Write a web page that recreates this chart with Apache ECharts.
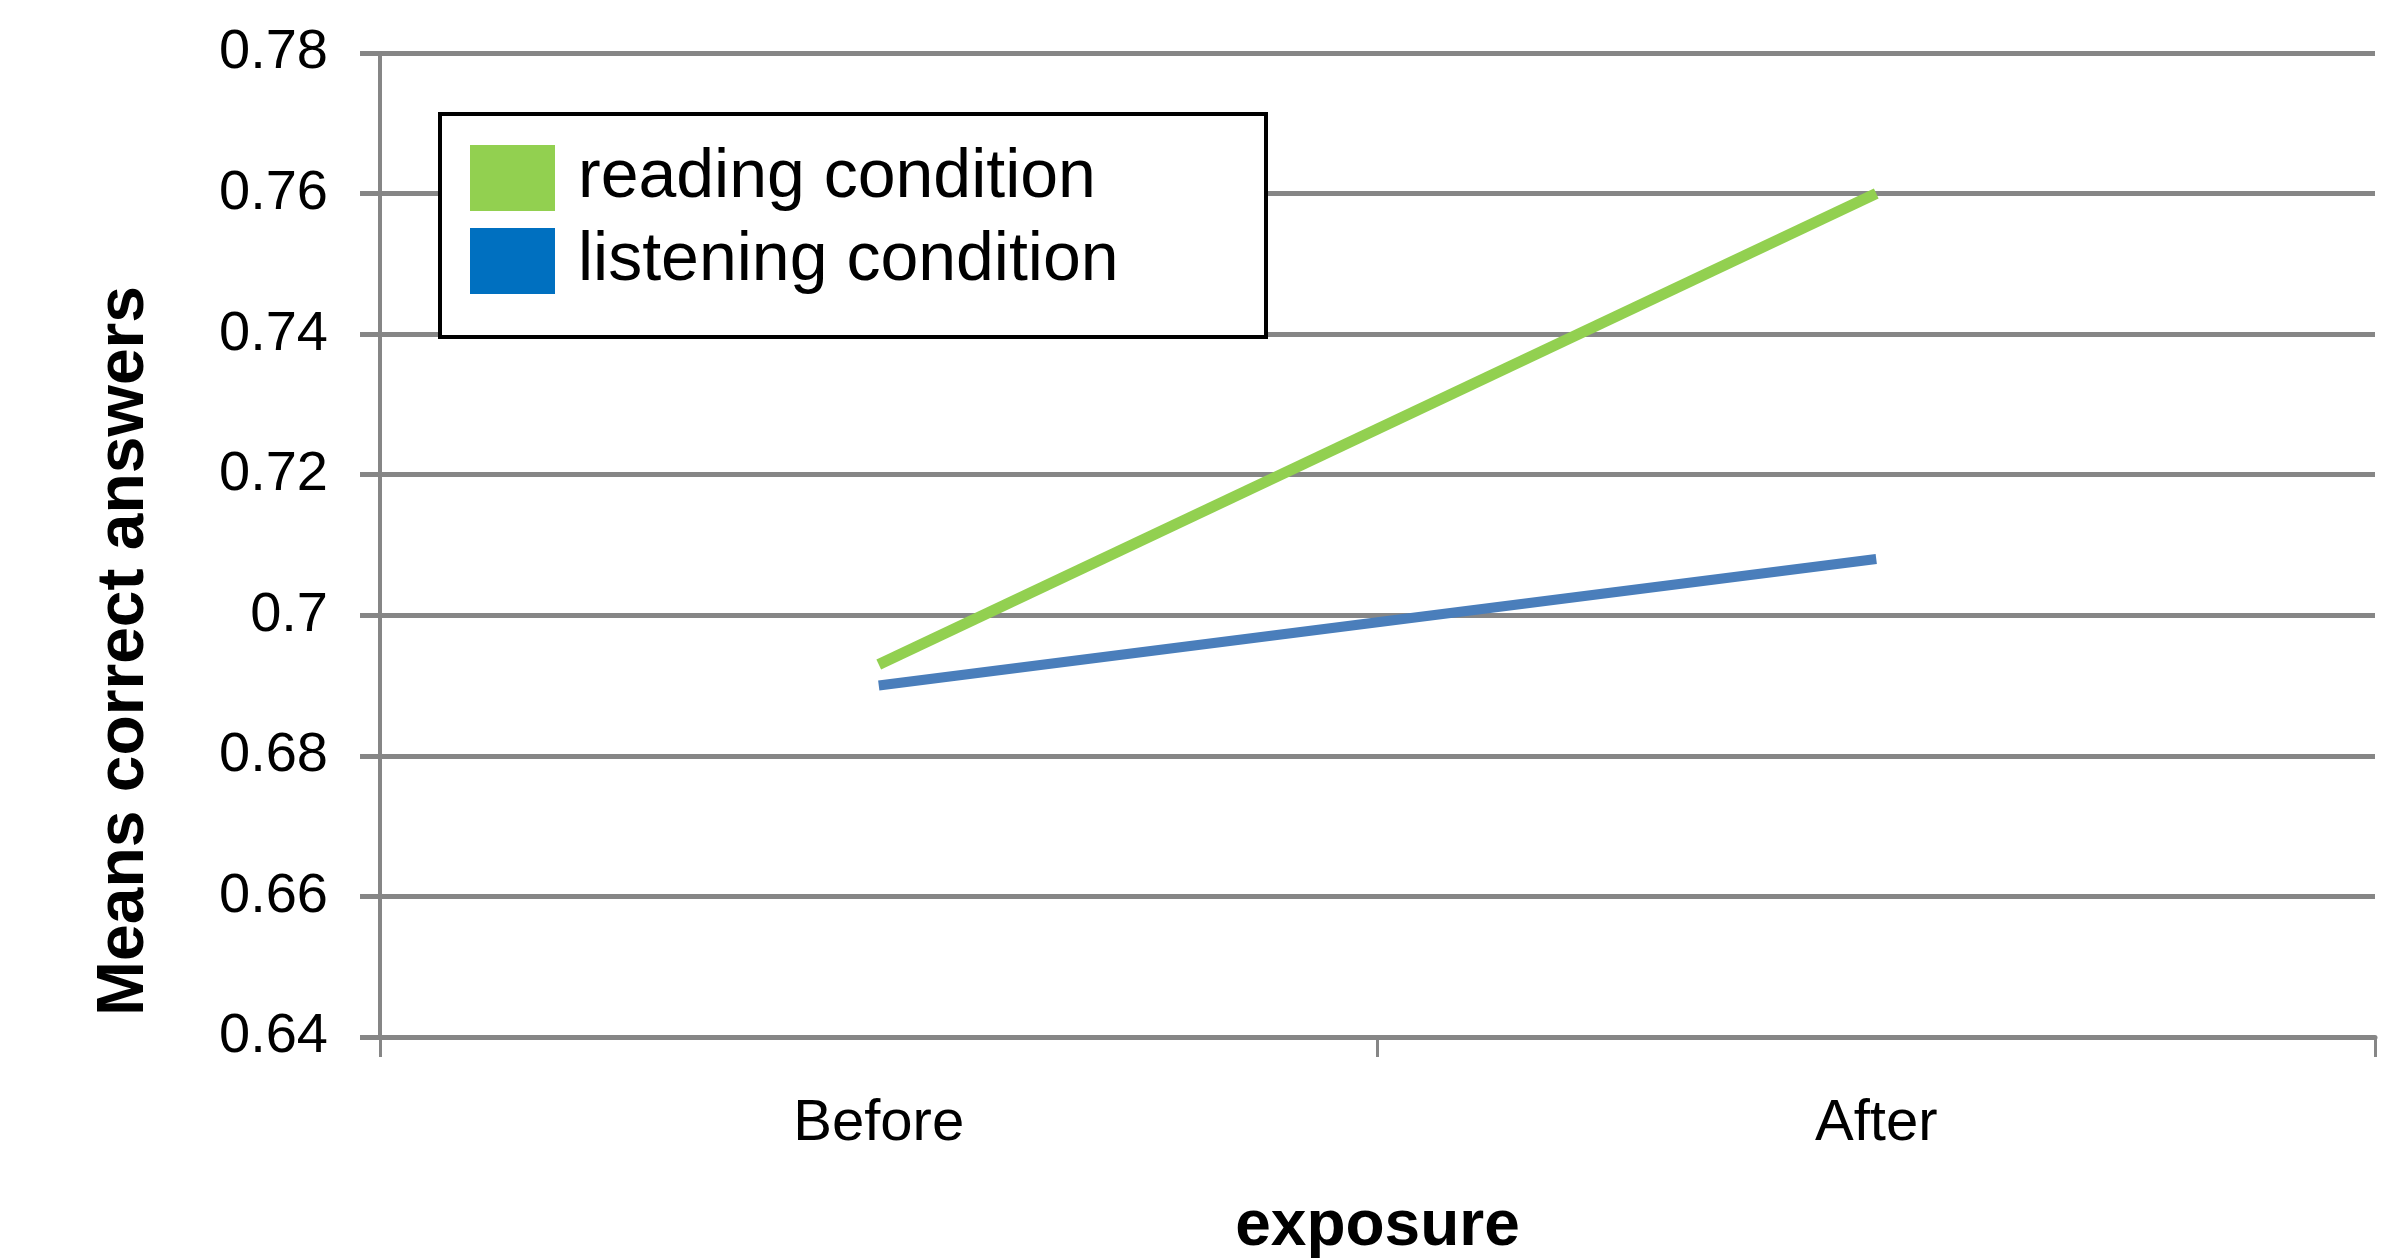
<!DOCTYPE html>
<html>
<head>
<meta charset="utf-8">
<script src="https://cdn.jsdelivr.net/npm/echarts@6/dist/echarts.min.js"></script>
<style>html,body{margin:0;padding:0;background:#fff}#c{width:2406px;height:1258px}</style>
</head>
<body>
<div id="c"></div>
<script>
const categories = ['Before', 'After'];
const readingValues = [0.693, 0.760];
const listeningValues = [0.690, 0.708];
const seriesNames = ['reading condition', 'listening condition'];
const yMin = 0.64, yMax = 0.78, yStep = 0.02;
const xAxisTitle = 'exposure';
const yAxisTitle = 'Means correct answers';

const FONT = 'Liberation Sans';
const chart = echarts.init(document.getElementById('c'), null, {renderer: 'canvas'});
chart.setOption({
  animation: false,
  backgroundColor: '#fff',
  textStyle: {fontFamily: FONT},
  grid: {left: 380, right: 31, top: 53, bottom: 221, containLabel: false, outerBoundsMode: 'none'},
  graphic: [{
    type: 'rect', z: 50,
    shape: {x: 440, y: 114, width: 826, height: 223},
    style: {fill: '#fff', stroke: '#000', lineWidth: 4}
  }],
  legend: {
    z: 60,
    orient: 'vertical', left: 470, top: 144, padding: 0,
    itemWidth: 85, itemHeight: 66, itemGap: 15,
    icon: 'rect',
    textStyle: {fontFamily: FONT, fontSize: 68, color: '#000', padding: [20, 0, 0, 18]},
    data: [
      {name: seriesNames[0], itemStyle: {color: '#92D050'}},
      {name: seriesNames[1], itemStyle: {color: '#0070C0'}}
    ]
  },
  xAxis: {
    type: 'category', data: categories, boundaryGap: true,
    axisLine: {lineStyle: {color: '#868686', width: 5}},
    axisTick: {show: true, length: 20, interval: 0, lineStyle: {color: '#868686', width: 3}},
    axisLabel: {fontFamily: FONT, fontSize: 58, color: '#000', margin: 58},
    name: xAxisTitle, nameLocation: 'middle', nameGap: 158,
    nameTextStyle: {fontFamily: FONT, fontSize: 64, fontWeight: 'bold', color: '#000'}
  },
  yAxis: {
    type: 'value', min: yMin, max: yMax, interval: yStep,
    axisLine: {show: true, lineStyle: {color: '#868686', width: 4}},
    axisTick: {show: true, length: 20, lineStyle: {color: '#868686', width: 5}},
    splitLine: {show: true, lineStyle: {color: '#868686', width: 5}},
    axisLabel: {fontFamily: FONT, fontSize: 56, color: '#000', margin: 52},
    name: yAxisTitle, nameLocation: 'middle', nameGap: 222, nameRotate: 90,
    nameTextStyle: {fontFamily: FONT, fontSize: 66, fontWeight: 'bold', color: '#000', padding: [0, 212, 0, 0]}
  },
  series: [
    {name: seriesNames[0], type: 'line', data: readingValues, showSymbol: false, symbol: 'none',
     lineStyle: {color: '#92D050', width: 11}, itemStyle: {color: '#92D050'}, z: 3},
    {name: seriesNames[1], type: 'line', data: listeningValues, showSymbol: false, symbol: 'none',
     lineStyle: {color: '#4A7EBB', width: 10}, itemStyle: {color: '#4A7EBB'}, z: 2}
  ]
});
</script>
</body>
</html>
